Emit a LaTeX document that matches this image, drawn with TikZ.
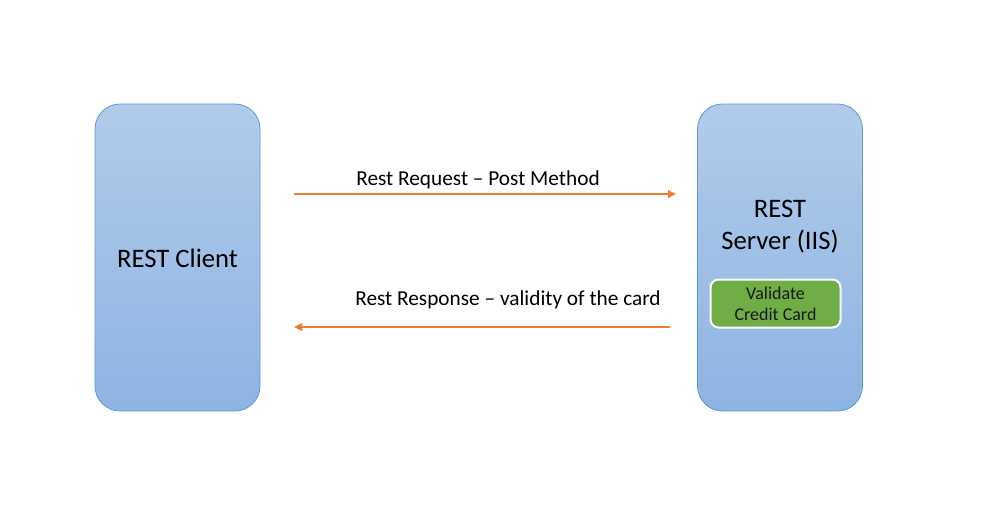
\documentclass[tikz,border=0pt]{standalone}
\usepackage{fontspec}
\setmainfont{Carlito}
\usetikzlibrary{arrows.meta}
\definecolor{boxtop}{HTML}{B1CBEA}
\definecolor{boxbot}{HTML}{8EB4E3}
\definecolor{boxline}{HTML}{5B9BD5}
\definecolor{arrowc}{HTML}{ED7D31}
\definecolor{greenc}{HTML}{70AD47}
\tikzset{
  endbox/.style={rectangle, rounded corners=25pt, draw=boxline, line width=0.8pt,
    top color=boxtop, bottom color=boxbot, minimum width=165pt, minimum height=307pt,
    inner sep=0pt},
  bigtext/.style={font=\fontsize{26.7pt}{32pt}\selectfont, align=center, text=black},
  greenbox/.style={rectangle, rounded corners=8pt, draw=white, line width=2pt, fill=greenc,
    minimum width=130pt, minimum height=48pt, align=center, inner sep=0pt,
    font=\fontsize{18pt}{21pt}\selectfont, text=black!90},
  msg/.style={draw=arrowc, line width=1.8pt, -{Triangle[length=8pt,width=7.5pt]}},
  lbl/.style={font=\fontsize{21.3pt}{24pt}\selectfont, text=black}
}
\begin{document}
\begin{tikzpicture}[x=1pt,y=-1pt]
\useasboundingbox[fill=white] (0,0) rectangle (984,530);
\node[endbox] (client) at (177.5,257.5) {};
\node[bigtext] (clientlbl) at (177.5,258) {REST Client};
\node[endbox] (server) at (780,257.5) {};
\node[bigtext] (serverlbl) at (780,227) {REST\\Server (IIS)};
\node[greenbox] (valid) at (775.5,303.5) {Validate\\Credit Card};
\coordinate (reqs) at (294,194);
\coordinate (reqe) at (676,194);
\coordinate (ress) at (670,327);
\coordinate (rese) at (294,327);
\draw[msg] (reqs) -- (reqe);
\draw[msg] (ress) -- (rese);
\node[lbl] (reqlbl) at (478,179.5) {Rest Request – Post Method};
\node[lbl] (reslbl) at (508,299.5) {Rest Response – validity of the card};
\end{tikzpicture}
\end{document}
